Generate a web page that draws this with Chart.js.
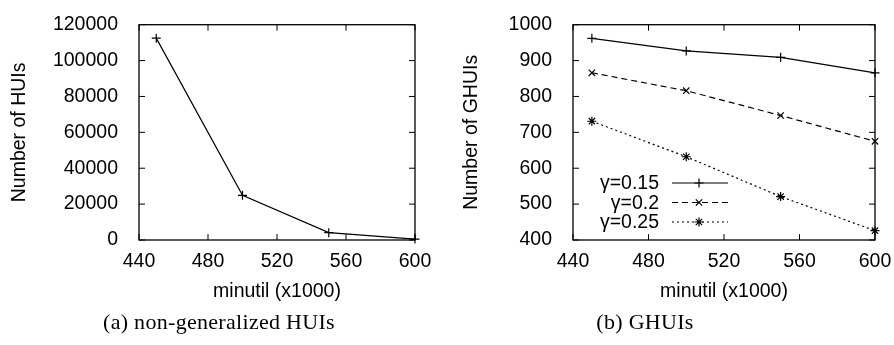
<!DOCTYPE html>
<html>
<head>
<meta charset="utf-8">
<script src="https://cdn.jsdelivr.net/npm/chart.js@4"></script>
<style>
  body { margin: 0; background: #fff; width: 894px; height: 345px; position: relative; overflow: hidden; }
  .box { position: absolute; top: 0; height: 310px; }
  .cap { position: absolute; top: 309px; line-height: 26px; font-family: "Liberation Serif", "DejaVu Serif", serif; font-size: 22px; letter-spacing: 0.3px; color: #000; text-align: center; white-space: nowrap; }
</style>
</head>
<body>
<div class="box" style="left:0;width:440px"><canvas id="c1"></canvas></div>
<div class="box" style="left:440px;width:454px"><canvas id="c2"></canvas></div>
<div class="cap" style="left:0;width:438px">(a) non-generalized HUIs</div>
<div class="cap" style="left:440px;width:410px">(b) GHUIs</div>
<script>
// minutil values (x1000)
var minutil = [450, 500, 550, 600];
// left chart: number of HUIs
var huis = [112500, 24900, 4100, 500];
// right chart: number of GHUIs per gamma
var gammaLabels = ['γ=0.15', 'γ=0.2', 'γ=0.25'];
var ghuis015 = [962, 927, 909, 866];
var ghuis02 = [866, 816, 747, 675];
var ghuis025 = [731, 632, 521, 426];

var fontFamily = '"Liberation Sans", Arial, sans-serif';
var fontSize = 19.5;
Chart.defaults.font.family = fontFamily;
Chart.defaults.color = '#000';

function toXY(ys) {
  return minutil.map(function (x, i) { return { x: x, y: ys[i] }; });
}

// draws the box frame and inward ticks on all four sides
var framePlugin = {
  id: 'frame',
  afterDatasetsDraw: function (chart) {
    var ctx = chart.ctx, a = chart.chartArea;
    var xs = chart.scales.x, ys = chart.scales.y;
    ctx.save();
    ctx.strokeStyle = '#000';
    ctx.lineWidth = 1.3;
    ctx.strokeRect(a.left, a.top, a.right - a.left, a.bottom - a.top);
    ctx.lineWidth = 1;
    var len = 6;
    ctx.beginPath();
    xs.ticks.forEach(function (t) {
      var px = xs.getPixelForValue(t.value);
      ctx.moveTo(px, a.bottom); ctx.lineTo(px, a.bottom - len);
      ctx.moveTo(px, a.top); ctx.lineTo(px, a.top + len);
    });
    ys.ticks.forEach(function (t) {
      var py = ys.getPixelForValue(t.value);
      ctx.moveTo(a.left, py); ctx.lineTo(a.left + len, py);
      ctx.moveTo(a.right, py); ctx.lineTo(a.right - len, py);
    });
    ctx.stroke();
    ctx.restore();
  }
};

// legend drawn inside the plot, text on the left of the sample
var innerLegend = {
  id: 'innerLegend',
  afterDraw: function (chart, args, opts) {
    if (!opts.show) return;
    var ctx = chart.ctx;
    ctx.save();
    ctx.font = fontSize + 'px ' + fontFamily;
    ctx.textAlign = 'right';
    ctx.textBaseline = 'middle';
    chart.data.datasets.forEach(function (ds, i) {
      var y = opts.top + i * opts.rowGap;
      ctx.fillStyle = '#000';
      ctx.fillText(ds.label, opts.textRight, y + 1);
      ctx.strokeStyle = '#000';
      ctx.lineWidth = ds.borderWidth;
      ctx.setLineDash(ds.borderDash || []);
      ctx.beginPath();
      ctx.moveTo(opts.lineStart, y);
      ctx.lineTo(opts.lineEnd, y);
      ctx.stroke();
      ctx.setLineDash([]);
      Chart.helpers.drawPoint(ctx, {
        pointStyle: ds.pointStyle, radius: ds.pointRadius, borderWidth: 1.2
      }, opts.marker, y);
    });
    ctx.restore();
  }
};

function makeOptions(yMin, yMax, yStep, yTitle, yWidth, yTitlePad, rightPad, legendOpts) {
  return {
    responsive: true,
    maintainAspectRatio: false,
    animation: false,
    layout: { padding: { top: 15, right: rightPad, left: 0, bottom: 0 } },
    plugins: {
      legend: { display: false },
      tooltip: { enabled: false },
      innerLegend: legendOpts
    },
    scales: {
      x: {
        type: 'linear',
        min: 440, max: 600,
        grid: { display: false },
        border: { display: false },
        ticks: {
          stepSize: 40, font: { size: fontSize }, padding: 2, maxRotation: 0,
          callback: function (v) { return String(v); }
        },
        title: { display: true, text: 'minutil (x1000)', font: { size: fontSize }, padding: { top: 0, bottom: 7 } },
        afterFit: function (s) { s.height = 70; }
      },
      y: {
        min: yMin, max: yMax,
        grid: { display: false },
        border: { display: false },
        ticks: {
          stepSize: yStep, font: { size: fontSize }, padding: 13,
          callback: function (v) { return String(v); }
        },
        title: { display: true, text: yTitle, font: { size: fontSize }, padding: { top: yTitlePad, bottom: 0 } },
        afterFit: function (s) { s.width = yWidth; }
      }
    }
  };
}

function series(label, data, style, dash) {
  return {
    label: label,
    data: toXY(data),
    borderColor: '#000',
    backgroundColor: '#000',
    borderWidth: 1.2,
    borderDash: dash,
    pointStyle: style,
    pointRadius: 4.5,
    pointBorderWidth: 1.2,
    pointBorderColor: '#000',
    tension: 0,
    clip: false
  };
}

document.addEventListener('DOMContentLoaded', function () {
  new Chart(document.getElementById('c1'), {
    type: 'line',
    data: { datasets: [series('HUIs', huis, 'cross', [])] },
    options: makeOptions(0, 120000, 20000, 'Number of HUIs', 139, 8, 25, { show: false }),
    plugins: [framePlugin, innerLegend]
  });

  new Chart(document.getElementById('c2'), {
    type: 'line',
    data: {
      datasets: [
        series(gammaLabels[0], ghuis015, 'cross', []),
        series(gammaLabels[1], ghuis02, 'crossRot', [6, 4]),
        series(gammaLabels[2], ghuis025, 'star', [2, 3])
      ]
    },
    options: makeOptions(400, 1000, 100, 'Number of GHUIs', 133, 20, 19,
      { show: true, top: 183, rowGap: 19.5, textRight: 219, lineStart: 232, lineEnd: 288, marker: 259 }),
    plugins: [framePlugin, innerLegend]
  });
});
</script>
</body>
</html>
